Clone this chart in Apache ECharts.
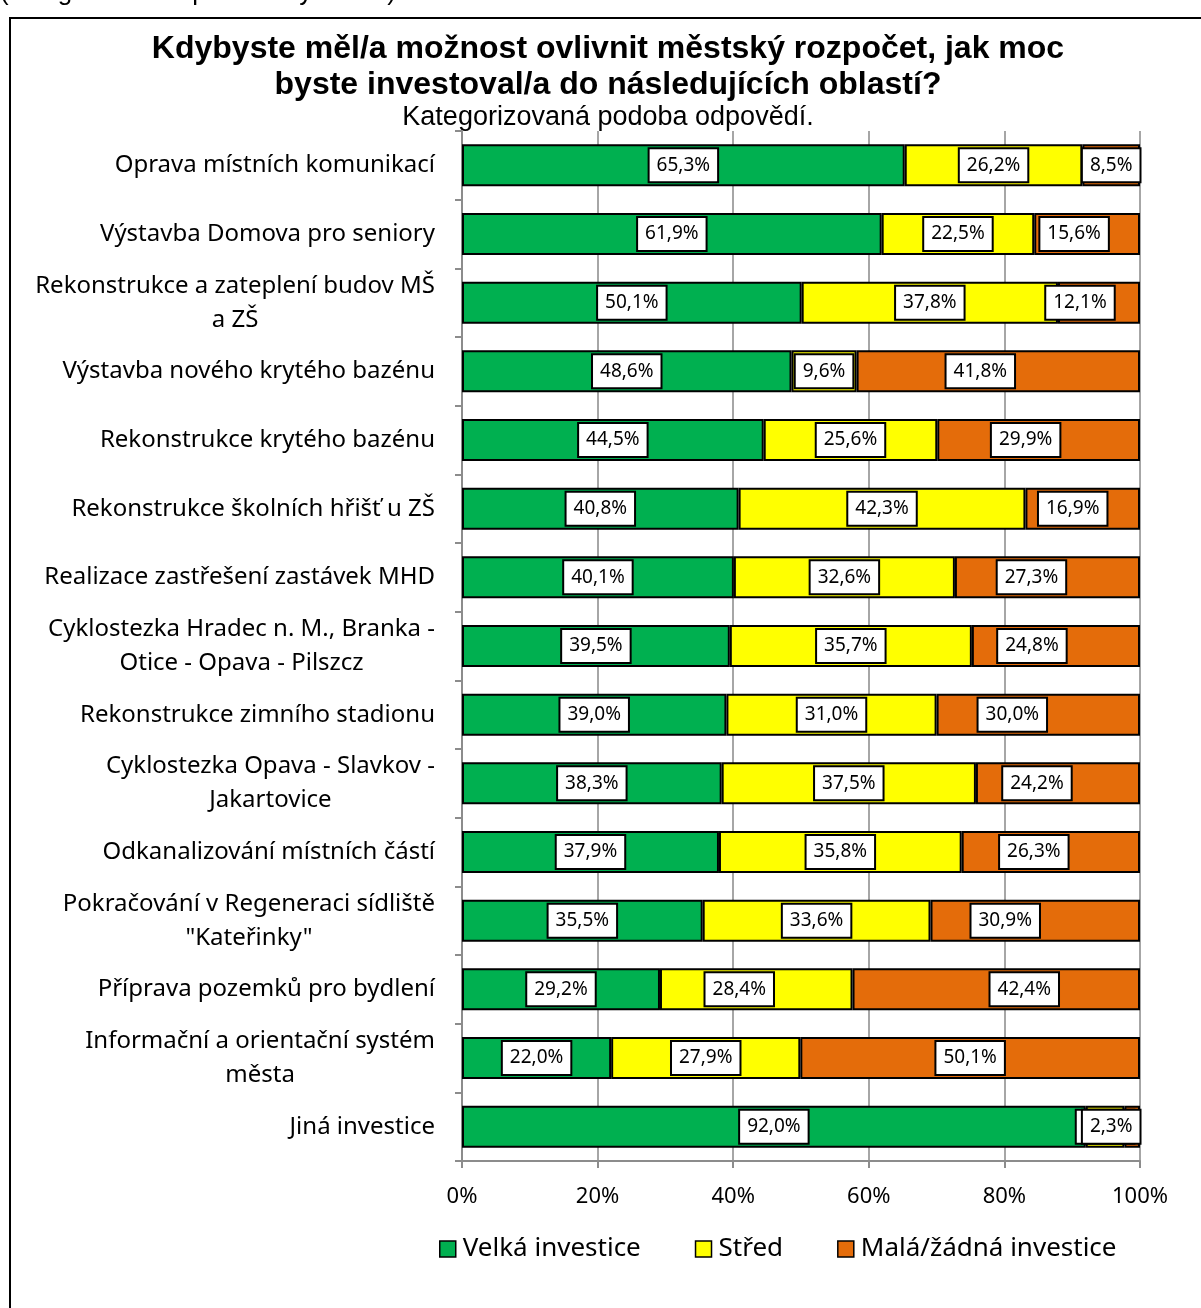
<!DOCTYPE html>
<html><head><meta charset="utf-8">
<script src="https://cdn.jsdelivr.net/npm/echarts@6/dist/echarts.min.js"></script>
<style>html,body{margin:0;padding:0;background:#fff}#c{width:1201px;height:1308px}</style>
</head><body><div id="c"></div>
<script>
var categories = [
  "Oprava místních komunikací",
  "Výstavba Domova pro seniory",
  "Rekonstrukce a zateplení budov MŠ\na ZŠ",
  "Výstavba nového krytého bazénu",
  "Rekonstrukce krytého bazénu",
  "Rekonstrukce školních hřišť u ZŠ",
  "Realizace zastřešení zastávek MHD",
  "Cyklostezka Hradec n. M., Branka -\nOtice - Opava - Pilszcz",
  "Rekonstrukce zimního stadionu",
  "Cyklostezka Opava - Slavkov -\nJakartovice",
  "Odkanalizování místních částí",
  "Pokračování v Regeneraci sídliště\n\"Kateřinky\"",
  "Příprava pozemků pro bydlení",
  "Informační a orientační systém\nměsta",
  "Jiná investice"
];
var velka = [65.3, 61.9, 50.1, 48.6, 44.5, 40.8, 40.1, 39.5, 39.0, 38.3, 37.9, 35.5, 29.2, 22.0, 92.0];
var stred = [26.2, 22.5, 37.8, 9.6, 25.6, 42.3, 32.6, 35.7, 31.0, 37.5, 35.8, 33.6, 28.4, 27.9, 5.7];
var mala  = [8.5, 15.6, 12.1, 41.8, 29.9, 16.9, 27.3, 24.8, 30.0, 24.2, 26.3, 30.9, 42.4, 50.1, 2.3];
var seriesNames = ["Velká investice", "Střed", "Malá/žádná investice"];
var xTicks = [0, 20, 40, 60, 80, 100];

// label position nudges (pixels), as placed in the original chart
var stredLabelShift = [0, 0, 0, 0, 0, 0, 0, 0, 0, 0, 0, 0, -17, 0, 0];
var malaLabelShift  = [0, -13, -19, -18, -13, -10, -16, -24, -26, -21, -17, -30, 28, 0, -21];

var colors = ["#00B050", "#FFFF00", "#E46C0A"];
var fmt = function (v) { return v.toFixed(1).replace('.', ',') + '%'; };

function mkSeries(name, arr, color, shifts) {
  return {
    name: name, type: 'bar', stack: 'a', barWidth: 42,
    itemStyle: { color: color, borderColor: '#000', borderWidth: 2 },
    label: {
      show: true, position: 'inside', color: '#000',
      fontFamily: 'Noto Sans', fontSize: 19,
      backgroundColor: '#fff', borderColor: '#000', borderWidth: 2,
      padding: [7, 7, 6, 7],
      formatter: function (p) { return fmt(p.value); }
    },
    data: arr.map(function (v, i) {
      if (shifts && shifts[i]) return { value: v, label: { offset: [shifts[i], 0] } };
      return v;
    })
  };
}

var chart = echarts.init(document.getElementById('c'), null, { renderer: 'canvas' });
chart.setOption({
  animation: false,
  graphic: [
    { type: 'rect', shape: { x: 10, y: 18, width: 1200, height: 1300 }, style: { fill: 'none', stroke: '#000', lineWidth: 2 }, silent: true },
    { type: 'text', x: 0, y: 6, style: { text: '(kategorizovaná podoba výsledků)', font: '26px "Liberation Sans"', fill: '#000', verticalAlign: 'bottom' } },
    { type: 'text', x: 608, y: 31, style: { text: 'Kdybyste měl/a možnost ovlivnit městský rozpočet, jak moc\nbyste investoval/a do následujících oblastí?', font: 'bold 32px "Liberation Sans"', fill: '#000', align: 'center', lineHeight: 36 } },
    { type: 'text', x: 608, y: 118, style: { text: 'Kategorizovaná podoba odpovědí.', font: '27px "Liberation Sans"', fill: '#000', align: 'center', verticalAlign: 'middle' } }
  ],
  legend: {
    left: 434, top: 1231, itemWidth: 16, itemHeight: 16, itemGap: 54,
    icon: 'rect',
    textStyle: { fontFamily: 'Noto Sans', fontSize: 26, color: '#000', padding: [0, 0, 0, 2] },
    itemStyle: { borderColor: '#000', borderWidth: 1.5 },
    data: seriesNames
  },
  grid: { left: 462, right: 61, top: 131, bottom: 147, containLabel: false },
  xAxis: {
    type: 'value', min: 0, max: 100, interval: 20,
    axisLine: { show: true, lineStyle: { color: '#8c8c8c', width: 2 } },
    axisTick: { show: true, length: 7, lineStyle: { color: '#8c8c8c', width: 2 } },
    splitLine: { show: true, lineStyle: { color: '#a6a6a6', width: 2 } },
    axisLabel: {
      margin: 25, fontFamily: 'Noto Sans', fontSize: 22, color: '#000',
      formatter: function (v) { return xTicks.indexOf(v) >= 0 ? v + '%' : ''; }
    }
  },
  yAxis: {
    type: 'category', inverse: true, data: categories,
    axisLine: { show: true, lineStyle: { color: '#8c8c8c', width: 2 } },
    axisTick: { show: true, length: 7, inside: false, lineStyle: { color: '#8c8c8c', width: 2 } },
    axisLabel: {
      margin: 27, fontFamily: 'Noto Sans', fontSize: 24, color: '#000', lineHeight: 34,
      formatter: function (v) { return v.split('\n').map(function (s) { return '{c|' + s + '}'; }).join('\n'); },
      rich: { c: { align: 'center', fontFamily: 'Noto Sans', fontSize: 24, lineHeight: 34, color: '#000' } }
    }
  },
  series: [
    mkSeries(seriesNames[0], velka, colors[0], null),
    mkSeries(seriesNames[1], stred, colors[1], stredLabelShift),
    mkSeries(seriesNames[2], mala, colors[2], malaLabelShift)
  ]
});
</script></body></html>
